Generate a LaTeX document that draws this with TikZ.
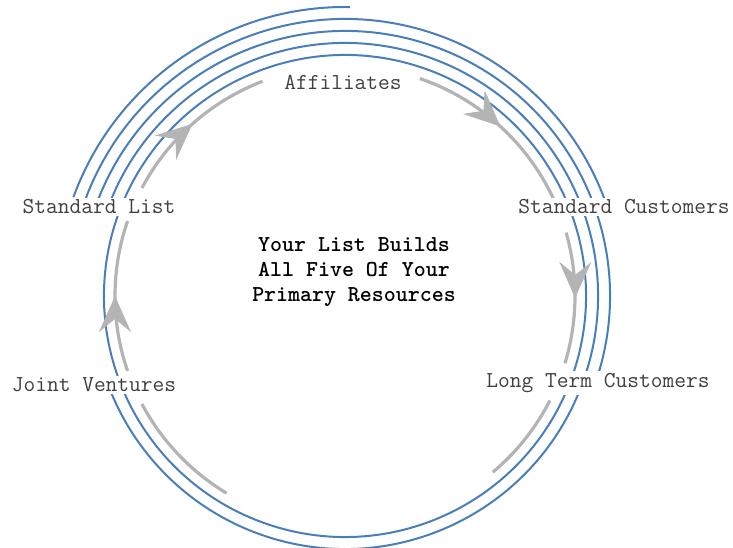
\documentclass[tikz,border=0pt]{standalone}
\usepackage{fontspec}
\usepackage{tikz}
\usetikzlibrary{arrows.meta, calc, decorations.markings}
\definecolor{RingBlue}{RGB}{74,126,187}
\definecolor{FlowGray}{RGB}{180,180,180}
\definecolor{LblGray}{RGB}{64,64,64}

\begin{document}
\begin{tikzpicture}[x=1pt, y=1pt,
    ring/.style={RingBlue, line width=2pt},
    flow/.style={FlowGray, line width=3.2pt},
    flowarr/.style={flow, postaction={decorate},
                    decoration={markings, mark=at position 0.5 with
                    {\arrow{Stealth[length=36pt, width=32pt, inset=13pt]}}}},
    lbl/.style={fill=white, inner sep=2pt, text=LblGray,
                font=\ttfamily\fontsize{22.8}{26}\selectfont},
    core/.style={align=center, font=\ttfamily\fontsize{22.8}{25}\selectfont\bfseries}
  ]
  \useasboundingbox (0,0) rectangle (733,548);
  \coordinate (ctr) at (345,252);

  % spiral rings, outermost ends first
  \foreach \r/\e in {241/-200, 253/-160, 265/-19, 277/18, 289/89}
    \draw[ring] ($(ctr)+(160:\r)$) arc[start angle=160, end angle=\e, radius=\r];

  % flow arcs
  \foreach \s/\e in {152/111, 71/24, 16/-17, 199/161}
    \draw[flowarr] ($(ctr)+(\s:230)$) arc[start angle=\s, end angle=\e, radius=230];
  \foreach \s/\e in {-27/-50, -121/-152}
    \draw[flow] ($(ctr)+(\s:230)$) arc[start angle=\s, end angle=\e, radius=230];

  \node[lbl] (aff)  at (343,466) {Affiliates};
  \node[lbl] (stdc) at (624,341) {Standard Customers};
  \node[lbl] (ltc)  at (598,165) {Long Term Customers};
  \node[lbl] (jv)   at (94,163)  {Joint Ventures};
  \node[lbl] (stdl) at (99,341)  {Standard List};
  \node[core] (msg) at (354,276)
        {Your List Builds\\All Five Of Your\\Primary Resources};
\end{tikzpicture}
\end{document}
